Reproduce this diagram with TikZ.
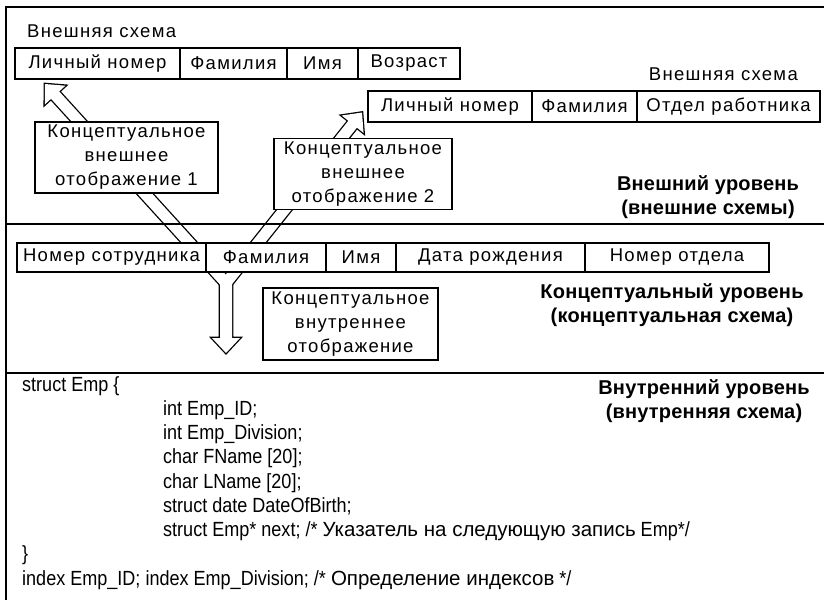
\documentclass[tikz,border=0pt]{standalone}
\usepackage{fontspec}
\setmainfont{Liberation Sans}[LetterSpace=7,BoldFeatures={LetterSpace=1}]
\newfontfamily\codefont{Liberation Sans}[FakeStretch=0.88]
\newfontfamily\remfont{Liberation Sans}
\newcommand\rem[1]{{\remfont #1}}
\usetikzlibrary{positioning,calc,backgrounds}
\tikzset{
  field/.style={
    rectangle, draw, line width=1.4pt, fill=white,
    minimum width=#1, minimum height=31pt,
    inner sep=0pt, outer sep=0pt,
    font=\fontsize{18.5}{24}\selectfont},
  field/.default=100pt,
  mapbox/.style={
    rectangle, draw, line width=1.4pt, fill=white,
    text width=#1, align=center,
    minimum height=71pt, inner sep=0pt,
    font=\fontsize{18.5}{24}\selectfont},
  mapbox/.default=180pt,
  schemename/.style={inner sep=0pt, font=\fontsize{18.5}{24}\selectfont},
  levelname/.style={align=center, inner sep=0pt,
    font=\bfseries\fontsize{20}{24}\selectfont},
  code/.style={align=left, inner sep=0pt,
    font=\codefont\fontsize{20.5}{24.25}\selectfont},
  fatedge/.style={draw, line width=2.6pt},
  fatfill/.style={fill=white},
  frame/.style={line width=2pt},
}
% hollow arrow: style, tail, tip, half width of the shaft
\newcommand\fatarrow[4]{%
  \path[#1] let \p1=#2, \p2=#3,
    \n1={atan2(\y2-\y1,\x2-\x1)}, \n2={veclen(\x2-\x1,\y2-\y1)-15}
  in ($(\p1)+(\n1+90:#4)$) -- ($(\p1)+(\n1:\n2)+(\n1+90:#4)$)
  -- ($(\p1)+(\n1:\n2)+(\n1+90:14pt)$) -- (\p2)
  -- ($(\p1)+(\n1:\n2)+(\n1-90:14pt)$) -- ($(\p1)+(\n1:\n2)+(\n1-90:#4)$)
  -- ($(\p1)+(\n1-90:#4)$) -- cycle;}

\begin{document}
\begin{tikzpicture}[x=1pt, y=-1pt]
  \useasboundingbox (0,0) rectangle (824,600);

  % external level
  \node[schemename, anchor=base west] (ext1title) at (27,37.5) {Внешняя схема};
  \node[field=165pt, anchor=north west] (ext1id) at (15,48) {Личный номер};
  \node[field=107pt, right=0pt of ext1id] (ext1fam) {Фамилия};
  \node[field=71pt, right=0pt of ext1fam] (ext1name) {Имя};
  \node[field=102pt, right=0pt of ext1name] (ext1age) {Возраст};

  \node[schemename, anchor=base east] (ext2title) at (798,80.5) {Внешняя схема};
  \node[field=164pt, anchor=north west] (ext2id) at (368,91) {Личный номер};
  \node[field=105pt, right=0pt of ext2id] (ext2fam) {Фамилия};
  \node[field=183pt, right=0pt of ext2fam] (ext2dept) {Отдел работника};

  \node[mapbox=183pt] (map1) at (126.5,157.5) {Концептуальное\\внешнее\\отображение 1};
  \node[mapbox=178pt] (map2) at (363,174) {Концептуальное\\внешнее\\отображение 2};
  \node[levelname] (extlevel) at (708,197) {Внешний уровень\\(внешние схемы)};

  % conceptual level
  \node[field=189pt, minimum height=29pt, anchor=north west] (concno) at (17,243) {Номер сотрудника};
  \node[field=120pt, minimum height=29pt, right=0pt of concno] (concfam) {Фамилия};
  \node[field=70pt, minimum height=29pt, right=0pt of concfam] (concname) {Имя};
  \node[field=189pt, minimum height=29pt, right=0pt of concname] (concbirth) {Дата рождения};
  \node[field=184pt, minimum height=29pt, right=0pt of concbirth] (concdept) {Номер отдела};

  \node[mapbox=175pt, minimum height=72pt] (mapint) at (350.5,324) {Концептуальное\\внутреннее\\отображение};
  \node[levelname] (conclevel) at (672,305.5) {Концептуальный уровень\\(концептуальная схема)};

  % internal level
  \node[levelname] (intlevel) at (704,401) {Внутренний уровень\\(внутренняя схема)};
  \node[code, anchor=north west] (intschema) at (22,376) {struct Emp \{\\
    \hspace*{141pt}int Emp\_ID;\\
    \hspace*{141pt}int Emp\_Division;\\
    \hspace*{141pt}char FName [20];\\
    \hspace*{141pt}char LName [20];\\
    \hspace*{141pt}struct date DateOfBirth;\\
    \hspace*{141pt}struct Emp* next; /* \rem{Указатель на следующую запись} Emp*/\\
    \}\\
    index Emp\_ID; index Emp\_Division; /* \rem{Определение индексов} */};

  % mappings
  \coordinate (split) at ([xshift=20pt,yshift=-11pt]concfam.south west);
  \coordinate[below=70pt of split] (sink);
  \begin{pgfonlayer}{background}
    \foreach \s in {fatedge, fatfill} {
      \fatarrow{\s}{(split)}{([xshift=30pt,yshift=-5pt]ext1id.south west)}{5.5pt}
      \fatarrow{\s}{(split)}{([xshift=-6pt,yshift=-6pt]ext2id.west)}{5.5pt}
      \fatarrow{\s}{(split)}{(sink)}{6pt}
    }
  \end{pgfonlayer}

  % frame
  \draw[frame] (824,7) -- (6,7) -- (6,600);
  \draw[frame] (6,224) -- (824,224);
  \draw[frame] (6,373) -- (824,373);
\end{tikzpicture}
\end{document}
